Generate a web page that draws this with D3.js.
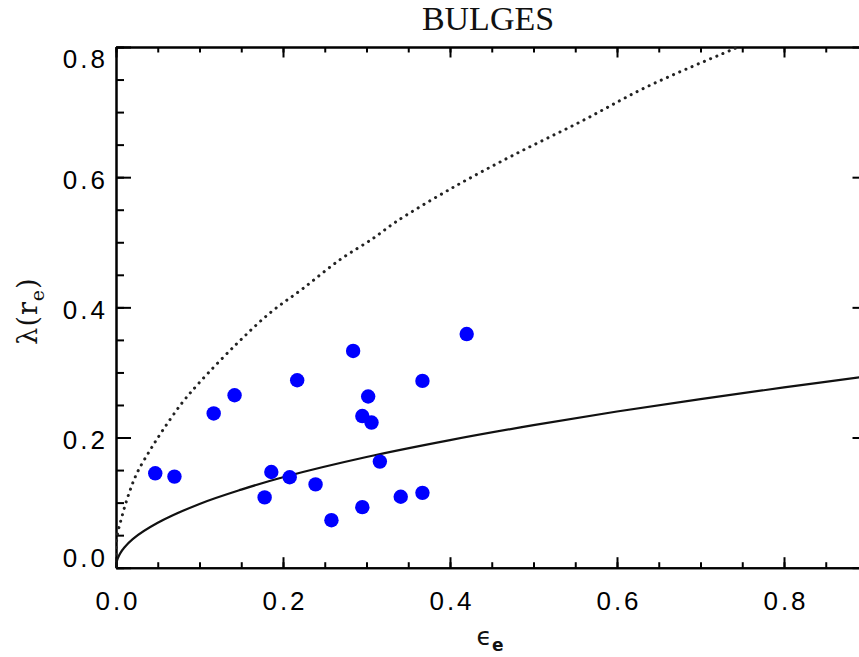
<!DOCTYPE html>
<html>
<head>
<meta charset="utf-8">
<script src="https://cdn.jsdelivr.net/npm/d3@7"></script>
<style>
  body { margin: 0; background: #fff; overflow: hidden; }
  svg { display: block; }
  .axis path, .axis line { stroke: #000; stroke-width: 2; }
  .tick text { font-family: 'Liberation Sans', Arial, sans-serif; font-size: 26px; letter-spacing: 3px; fill: #000; }
</style>
</head>
<body>
<svg width="859" height="657"></svg>
<script>
// measured galaxies: ellipticity and lambda at r_e
const epsVals = [0.047, 0.070, 0.117, 0.142, 0.217, 0.186, 0.178, 0.208, 0.239, 0.258,
                 0.284, 0.302, 0.295, 0.306, 0.295, 0.316, 0.341, 0.367, 0.367, 0.420];
const lamVals = [0.145, 0.140, 0.237, 0.265, 0.288, 0.147, 0.108, 0.139, 0.128, 0.073,
                 0.333, 0.263, 0.233, 0.223, 0.093, 0.163, 0.109, 0.115, 0.287, 0.359];

// solid reference line
const solidEps = [0, 0.0005, 0.002, 0.005, 0.01, 0.02, 0.05, 0.1, 0.15, 0.2, 0.3, 0.4, 0.5, 0.6, 0.7, 0.8, 0.9];
const solidLam = [0, 0.007, 0.014, 0.022, 0.031, 0.044, 0.069, 0.098, 0.120, 0.139, 0.170, 0.196, 0.219, 0.240, 0.259, 0.277, 0.294];

// dotted reference line
const dotEps = [0, 0.001, 0.007, 0.015, 0.025, 0.041, 0.057, 0.079, 0.101, 0.143, 0.184,
                0.224, 0.268, 0.308, 0.336, 0.402, 0.476, 0.556, 0.636, 0.736, 0.76];
const dotLam = [0, 0.045, 0.078, 0.112, 0.145, 0.181, 0.213, 0.253, 0.286, 0.342, 0.391,
                0.429, 0.473, 0.506, 0.532, 0.583, 0.634, 0.685, 0.739, 0.795, 0.808];

const xMajor = [0, 0.2, 0.4, 0.6, 0.8];
const yMajor = [0, 0.2, 0.4, 0.6, 0.8];
const minorStep = 0.05;

const svg = d3.select('svg');

const pLeft = 116, pRight = 867.5, pTop = 47, pBottom = 567.7;

const x = d3.scaleLinear().domain([0, 0.9]).range([pLeft, pRight]);
const y = d3.scaleLinear().domain([0, 0.8]).range([pBottom, pTop]);

const xMinor = d3.range(0, 0.9001, minorStep);
const yMinor = d3.range(0, 0.8001, minorStep);

svg.append('defs').append('clipPath').attr('id', 'plot')
  .append('rect').attr('x', pLeft).attr('y', pTop)
  .attr('width', pRight - pLeft).attr('height', pBottom - pTop);

// bottom axis
svg.append('g').attr('class', 'axis')
  .attr('transform', `translate(0, ${pBottom})`)
  .call(d3.axisBottom(x).tickValues(xMinor).tickSize(-5.5).tickSizeOuter(0).tickFormat(''));
svg.append('g').attr('class', 'axis')
  .attr('transform', `translate(0, ${pBottom})`)
  .call(d3.axisBottom(x).tickValues(xMajor).tickSize(-10.5).tickSizeOuter(0)
    .tickPadding(24).tickFormat(d3.format('.1f')))
  .selectAll('.tick text').attr('dx', 1.5);

// top axis
svg.append('g').attr('class', 'axis')
  .attr('transform', `translate(0, ${pTop})`)
  .call(d3.axisTop(x).tickValues(xMinor).tickSize(-5.5).tickSizeOuter(0).tickFormat(''));
svg.append('g').attr('class', 'axis')
  .attr('transform', `translate(0, ${pTop})`)
  .call(d3.axisTop(x).tickValues(xMajor).tickSize(-10.5).tickSizeOuter(0).tickFormat(''));

// left axis
svg.append('g').attr('class', 'axis')
  .attr('transform', `translate(${pLeft}, 0)`)
  .call(d3.axisLeft(y).tickValues(yMinor).tickSize(-8).tickSizeOuter(0).tickFormat(''));
const yAx = svg.append('g').attr('class', 'axis')
  .attr('transform', `translate(${pLeft}, 0)`)
  .call(d3.axisLeft(y).tickValues(yMajor).tickSize(-15).tickSizeOuter(0)
    .tickPadding(8).tickFormat(d3.format('.1f')));
// keep end labels inside the frame, like the original
yAx.selectAll('.tick text')
  .attr('dy', (d) => d === 0 ? '-0.03em' : d === 0.8 ? '0.8em' : '0.44em');

// right axis
svg.append('g').attr('class', 'axis')
  .attr('transform', `translate(${pRight}, 0)`)
  .call(d3.axisRight(y).tickValues(yMinor).tickSize(-8).tickSizeOuter(0).tickFormat(''));
svg.append('g').attr('class', 'axis')
  .attr('transform', `translate(${pRight}, 0)`)
  .call(d3.axisRight(y).tickValues(yMajor).tickSize(-15).tickSizeOuter(0).tickFormat(''));

const line = d3.line()
  .x((d) => x(d[0]))
  .y((d) => y(d[1]))
  .curve(d3.curveCatmullRom.alpha(0.5));

const curves = svg.append('g').attr('clip-path', 'url(#plot)');

curves.append('path')
  .datum(dotEps.map((e, i) => [e, dotLam[i]]))
  .attr('d', line)
  .attr('fill', 'none')
  .attr('stroke', '#222')
  .attr('stroke-width', 3)
  .attr('stroke-linecap', 'round')
  .attr('stroke-dasharray', '0.1 6.6');

curves.append('path')
  .datum(solidEps.map((e, i) => [e, solidLam[i]]))
  .attr('d', line)
  .attr('fill', 'none')
  .attr('stroke', '#111')
  .attr('stroke-width', 2.2);

svg.append('g').selectAll('circle')
  .data(epsVals.map((e, i) => [e, lamVals[i]]))
  .enter()
  .append('circle')
  .attr('cx', (d) => x(d[0]))
  .attr('cy', (d) => y(d[1]))
  .attr('r', 7.2)
  .attr('fill', '#0000ff');

// title
svg.append('text')
  .attr('x', 488)
  .attr('y', 29.5)
  .attr('text-anchor', 'middle')
  .attr('font-family', "'Liberation Serif', serif")
  .attr('font-size', 34)
  .attr('fill', '#111')
  .text('BULGES');

// x title
const xt = svg.append('text')
  .attr('x', 490)
  .attr('y', 645)
  .attr('text-anchor', 'middle')
  .attr('font-family', "'DejaVu Sans', sans-serif")
  .attr('font-size', 25)
  .attr('fill', '#111');
xt.append('tspan').text('\u03f5');
xt.append('tspan').attr('dy', 6).attr('font-size', 17).attr('font-weight', 'bold').text('e');

// y title
const yt = svg.append('text')
  .attr('transform', 'translate(37, 311) rotate(-90)')
  .attr('text-anchor', 'middle')
  .attr('font-family', "'DejaVu Serif', serif")
  .attr('font-size', 27)
  .attr('letter-spacing', 1)
  .attr('fill', '#111');
yt.append('tspan').text('\u03bb(r');
yt.append('tspan').attr('dy', 7).attr('font-size', 19).text('e');
yt.append('tspan').attr('dy', -7).text(')');
</script>
</body>
</html>
